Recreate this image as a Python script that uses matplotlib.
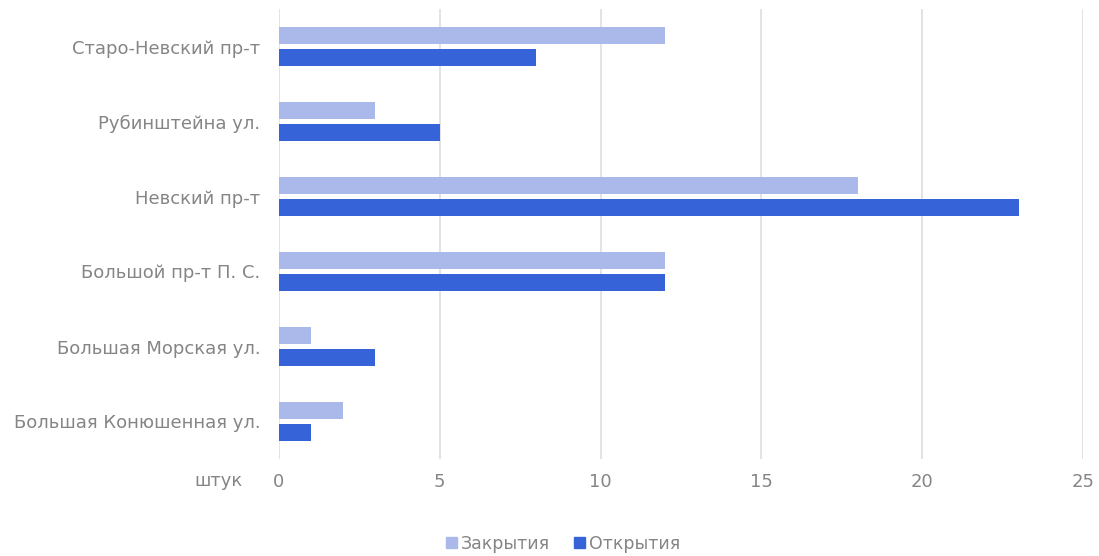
import numpy as np
import matplotlib
matplotlib.use("Agg")
import matplotlib.pyplot as plt
from matplotlib.patches import Patch

# data, top to bottom
streets = ["Старо-Невский пр-т", "Рубинштейна ул.", "Невский пр-т",
           "Большой пр-т П. С.", "Большая Морская ул.", "Большая Конюшенная ул."]
closed = [12, 3, 18, 12, 1, 2]
opened = [8, 5, 23, 12, 3, 1]
xticks = [0, 5, 10, 15, 20, 25]

c_closed = "#aab9ea"
c_opened = "#3763d9"
txt = "#858585"

plt.rcParams['font.family'] = ['DejaVu Sans']

fig = plt.figure(figsize=(10.99, 5.56), dpi=100)
ax = fig.add_axes([279/1099, 1 - 459/556, (1083 - 279)/1099, 450/556])

y = np.arange(len(streets))
h = 0.235
ax.barh(y - 0.145, closed, height=h, color=c_closed, zorder=3)
ax.barh(y + 0.145, opened, height=h, color=c_opened, zorder=3)

ax.set_ylim(len(streets) - 0.5, -0.5)
ax.set_xlim(0, 25)
ax.set_xticks(xticks)
ax.set_yticks(y)
ax.set_yticklabels(streets)
ax.grid(axis="x", color="#e0e0e0", linewidth=1.3, zorder=0)
for s in ax.spines.values():
    s.set_visible(False)
ax.tick_params(length=0, labelsize=13, colors=txt)
ax.tick_params(axis="y", pad=13.5)
ax.tick_params(axis="x", pad=10)

fig.text(243/1099, 1 - 481/556, "штук", ha="right", va="center", fontsize=13, color=txt)

handles = [Patch(color=c_closed, label="Закрытия"), Patch(color=c_opened, label="Открытия")]
fig.legend(handles=handles, loc="center", bbox_to_anchor=(563/1099, 1 - 544/556), ncol=2,
           frameon=False, fontsize=12.5, labelcolor=txt, handlelength=0.6, handleheight=0.6,
           handletextpad=0.23, columnspacing=1.4, borderpad=0)

fig.savefig("out.png", dpi=100)
